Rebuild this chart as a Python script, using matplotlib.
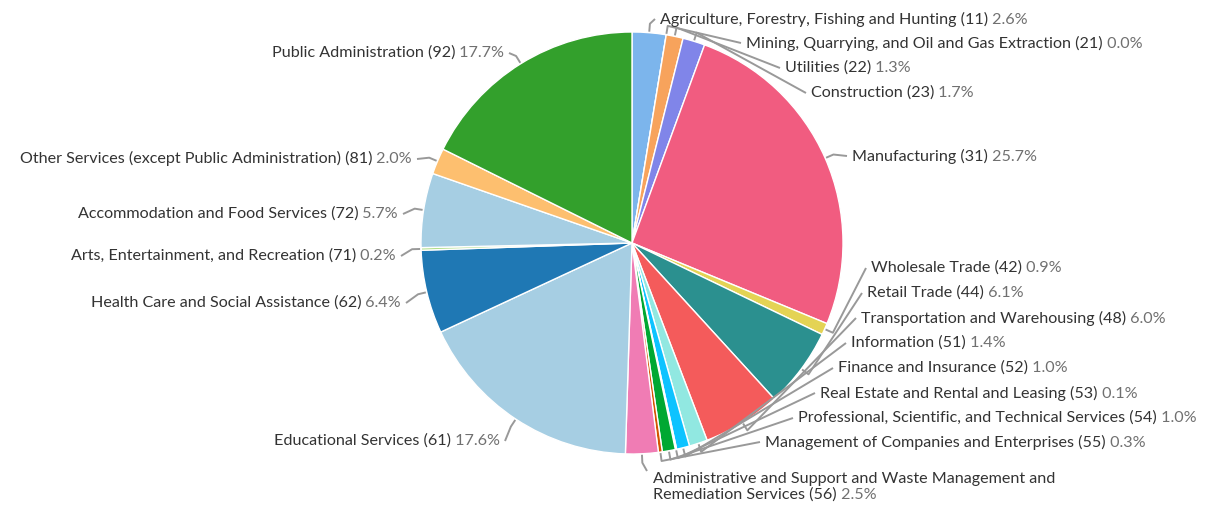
import numpy as np
import matplotlib
matplotlib.use("Agg")
import matplotlib.pyplot as plt

# podatki
names = [
    "Agriculture, Forestry, Fishing and Hunting (11)",
    "Mining, Quarrying, and Oil and Gas Extraction (21)",
    "Utilities (22)",
    "Construction (23)",
    "Manufacturing (31)",
    "Wholesale Trade (42)",
    "Retail Trade (44)",
    "Transportation and Warehousing (48)",
    "Information (51)",
    "Finance and Insurance (52)",
    "Real Estate and Rental and Leasing (53)",
    "Professional, Scientific, and Technical Services (54)",
    "Management of Companies and Enterprises (55)",
    "Administrative and Support and Waste Management and\nRemediation Services (56)",
    "Educational Services (61)",
    "Health Care and Social Assistance (62)",
    "Arts, Entertainment, and Recreation (71)",
    "Accommodation and Food Services (72)",
    "Other Services (except Public Administration) (81)",
    "Public Administration (92)",
]
shares = [2.6, 0.0, 1.3, 1.7, 25.7, 0.9, 6.1, 6.0, 1.4, 1.0,
          0.1, 1.0, 0.3, 2.5, 17.6, 6.4, 0.2, 5.7, 2.0, 17.7]
colors = ["#7cb5ec", "#434348", "#f7a35c", "#8085e9", "#f15c80",
          "#e4d354", "#2b908f", "#f45b5b", "#91e8e1", "#0dc3ff",
          "#8d4654", "#00a832", "#d35400", "#f07cb4", "#a6cee3",
          "#1f78b4", "#b2df8a", "#a6cee3", "#fdbf6f", "#33a02c"]

# postavitev napisov (x, y v pikslih od zgoraj, poravnava)
label_pos = [
    (660, 19, "left"), (746, 43, "left"), (785, 68, "left"), (811, 93, "left"),
    (852, 156, "left"), (871, 268, "left"), (867, 293, "left"), (861, 318, "left"),
    (851, 343, "left"), (838, 368, "left"), (820, 393, "left"), (798, 418, "left"),
    (765, 442, "left"), (653, 479, "left"), (500, 441, "right"), (401, 303, "right"),
    (396, 256, "right"), (398, 214, "right"), (412, 159, "right"), (504, 53, "right"),
]

W, H = 1207, 505
cx, cy, R = 632, H - 243, 211

fig = plt.figure(figsize=(W / 100, H / 100), dpi=100)
ax = fig.add_axes([0, 0, 1, 1])
plt.rcParams["font.family"] = ["Lato", "DejaVu Sans"]

ax.pie(shares, colors=colors, startangle=90, counterclock=False,
       center=(cx, cy), radius=R, frame=False,
       wedgeprops=dict(edgecolor="white", linewidth=1))
ax.set_xlim(0, W)
ax.set_ylim(0, H)
ax.set_aspect("equal")
ax.axis("off")

total = sum(shares)
cum = 0.0
fs = 11.6
for name, s, (lx, ly, ha) in zip(names, shares, label_pos):
    mid = (cum + s / 2) / total * 2 * np.pi
    cum += s
    ex, ey = cx + (R + 1) * np.sin(mid), cy + (R + 1) * np.cos(mid)
    bx, by = cx + (R + 9) * np.sin(mid), cy + (R + 9) * np.cos(mid)
    ty = H - ly
    if "\n" in name:
        ax_x, ax_y = lx - 6, ty + 8
    elif ha == "left":
        ax_x, ax_y = lx - 5, ty
    else:
        ax_x, ax_y = lx + 5, ty
    ax.plot([ex, bx, ax_x], [ey, by, ax_y], color="#999999", lw=1.4,
            solid_capstyle="butt", zorder=1)
    pct = f" {s:.1f}%"
    if ha == "left":
        lines = name.split("\n")
        for i, line in enumerate(lines):
            t = ax.text(lx, ty - i * 16, line, ha="left", va="center",
                        fontsize=fs, color="#333333")
        ax.annotate(pct, xy=(1, 0), xycoords=t, ha="left", va="bottom",
                    fontsize=fs, color="#707070")
    else:
        t = ax.text(lx, ty, pct, ha="right", va="center", fontsize=fs,
                    color="#707070")
        ax.annotate(name, xy=(0, 0), xycoords=t, ha="right", va="bottom",
                    fontsize=fs, color="#333333")

fig.savefig("out.png", dpi=100)
